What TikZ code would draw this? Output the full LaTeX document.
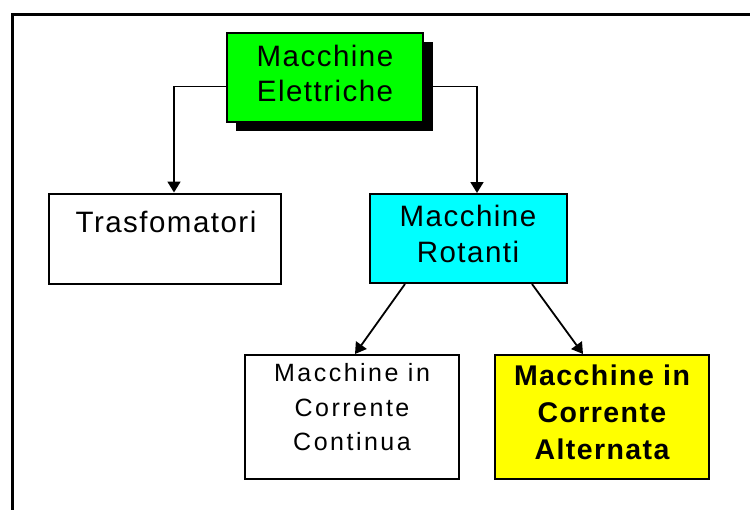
\documentclass[tikz,border=0pt]{standalone}
\usepackage{fontspec}
\setmainfont{Liberation Sans}
\usetikzlibrary{arrows.meta}

\newfontfamily\plainwide[LetterSpace=5]{Liberation Sans}
\newfontfamily\plainwider[LetterSpace=10]{Liberation Sans}
\newfontfamily\boldwide[LetterSpace=5]{Liberation Sans Bold}

\definecolor{boxgreen}{RGB}{0,255,0}
\definecolor{boxcyan}{RGB}{0,255,255}
\definecolor{boxyellow}{RGB}{255,255,0}

\tikzset{
  box/.style={draw=black, line width=2pt, rectangle, inner sep=0pt},
  lbl/.style={anchor=base, inner sep=0pt, font=\fontsize{29.5}{34}\plainwide},
  lblsmall/.style={anchor=base, inner sep=0pt, font=\fontsize{25}{30}\plainwider},
  lblbold/.style={anchor=base, inner sep=0pt, font=\fontsize{28.5}{34}\boldwide},
  link/.style={line width=1.8pt, -{Triangle[width=13pt,length=11pt]}},
}

\begin{document}
\begin{tikzpicture}[x=1pt, y=-1pt]
  \useasboundingbox (0,0) rectangle (750,509);

  % outer frame, running past the right and bottom edges
  \begin{scope}
    \clip (0,0) rectangle (750,509);
    \draw[line width=2.2pt] (12.5,14.5) rectangle (800,560);
  \end{scope}

  % top box with drop shadow
  \fill[black] (236,42) rectangle (433,131);
  \node[box, fill=boxgreen, minimum width=196pt, minimum height=89pt] (elettriche) at (325,77.5) {};
  \node[lbl] (el1) at (325,66.7) {Macchine};
  \node[lbl] (el2) at (325,101.7) {Elettriche};

  % second level
  \node[box, fill=white, minimum width=232pt, minimum height=90pt] (trasf) at (165,238.5) {};
  \node[lbl] (tr1) at (166,232.3) {Trasfomatori};

  \node[box, fill=boxcyan, minimum width=197pt, minimum height=89pt] (rotanti) at (468.5,238.5) {};
  \node[lbl] (ro1) at (468,226.7) {Macchine};
  \node[lbl] (ro2) at (468,262.7) {Rotanti};

  % third level
  \node[box, fill=white, minimum width=214pt, minimum height=124pt] (continua) at (352,417) {};
  \node[lblsmall] (cc1) at (352,381.7) {Macchine in};
  \node[lblsmall] (cc2) at (352,416.7) {Corrente};
  \node[lblsmall] (cc3) at (352,450) {Continua};

  \node[box, fill=boxyellow, minimum width=214pt, minimum height=124pt] (alternata) at (602,417) {};
  \node[lblbold] (ca1) at (602,385.7) {Macchine in};
  \node[lblbold] (ca2) at (602,422.7) {Corrente};
  \node[lblbold] (ca3) at (602,459) {Alternata};

  % connectors
  \draw[link] (elettriche.west |- 0,86.5) -| (trasf.north -| 174,0);
  \draw[link] (elettriche.east |- 0,86.5) -| (rotanti.north -| 477,0);
  \draw[link] (rotanti.south -| 405,0) -- (continua.north -| 355,0);
  \draw[link] (rotanti.south -| 532,0) -- (alternata.north -| 583,0);
\end{tikzpicture}
\end{document}
